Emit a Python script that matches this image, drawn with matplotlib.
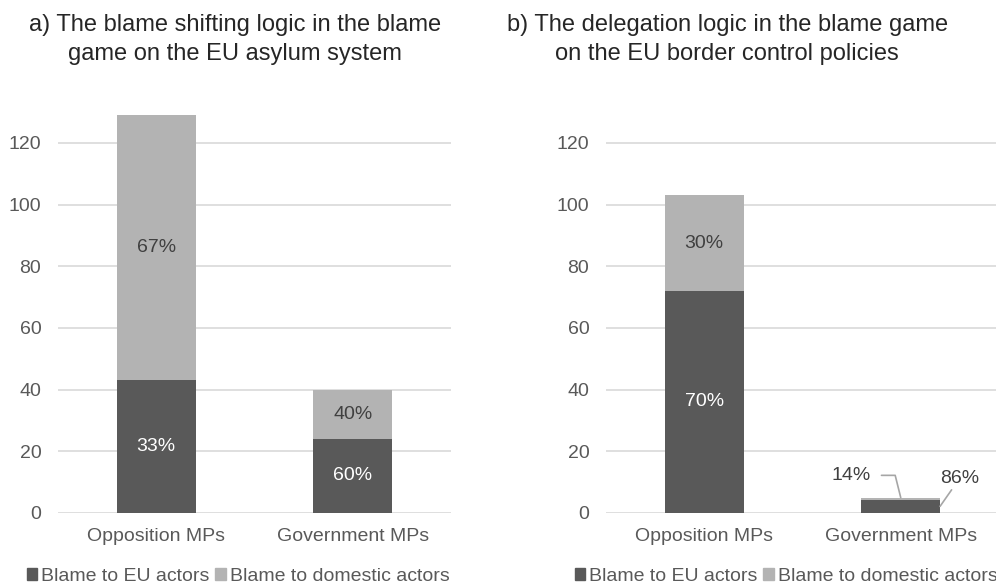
import numpy as np
import matplotlib.pyplot as plt
from matplotlib.patches import Patch

plt.rcParams['font.family'] = ['Liberation Sans', 'DejaVu Sans']

#%% data
groups = ['Opposition MPs', 'Government MPs']
titles = ['a) The blame shifting logic in the blame\ngame on the EU asylum system',
          'b) The delegation logic in the blame game\non the EU border control policies']
series = ['Blame to EU actors', 'Blame to domestic actors']
eu_a = [43, 24]
dom_a = [86, 16]
eu_b = [72, 4.3]
dom_b = [31, 0.7]
lab_eu_a = ['33%', '60%']
lab_dom_a = ['67%', '40%']
lab_eu_b = ['70%', '86%']
lab_dom_b = ['30%', '14%']
yticks = [0, 20, 40, 60, 80, 100, 120]

dark, light = '#595959', '#b3b3b3'
txt = '#595959'
fs = 14

fig = plt.figure(figsize=(9.96, 5.85), dpi=100)
ax1 = fig.add_axes([0.0582, 0.1231, 0.3946, 0.738])
ax2 = fig.add_axes([0.6084, 0.1231, 0.3946, 0.738])

x = np.arange(len(groups))
w = 0.4

def draw(ax, eu, dom, title, cx):
    ax.bar(x, eu, w, color=dark, zorder=3)
    ax.bar(x, dom, w, bottom=eu, color=light, zorder=3)
    ax.set_xlim(-0.5, 1.5)
    ax.set_ylim(0, 140)
    ax.set_yticks(yticks)
    ax.set_xticks(x)
    ax.set_xticklabels(groups, fontsize=fs, color=txt)
    ax.tick_params(axis='y', length=0, pad=12, labelsize=fs, labelcolor=txt)
    ax.tick_params(axis='x', length=0, pad=11)
    for s in ax.spines.values():
        s.set_visible(False)
    ax.grid(axis='y', color='#d9d9d9', lw=1.2, zorder=0)
    ax.set_axisbelow(True)
    fig.text(cx, 0.976, title, ha='center', va='top', fontsize=17,
             color='#262626', linespacing=1.4)
    ax.legend(handles=[Patch(color=dark), Patch(color=light)], labels=series,
              loc='upper left', bbox_to_anchor=(-0.08, -0.127), ncol=2,
              frameon=False, fontsize=fs, handlelength=0.55, handleheight=0.55,
              handletextpad=0.2, columnspacing=0.3, labelcolor=txt,
              borderpad=0, borderaxespad=0)

draw(ax1, eu_a, dom_a, titles[0], 0.236)
draw(ax2, eu_b, dom_b, titles[1], 0.730)

# labels inside bars, left chart
for i in x:
    ax1.text(i, eu_a[i] / 2, lab_eu_a[i], ha='center', va='center',
             fontsize=fs, color='white', zorder=4)
    ax1.text(i, eu_a[i] + dom_a[i] / 2, lab_dom_a[i], ha='center', va='center',
             fontsize=fs, color='#404040', zorder=4)

# right chart: opposition inside, government with leader lines
ax2.text(0, eu_b[0] / 2, lab_eu_b[0], ha='center', va='center',
         fontsize=fs, color='white', zorder=4)
ax2.text(0, eu_b[0] + dom_b[0] / 2, lab_dom_b[0], ha='center', va='center',
         fontsize=fs, color='#404040', zorder=4)

lc = '#a6a6a6'
ax2.annotate(lab_dom_b[1], xy=(1, eu_b[1] + dom_b[1]), xytext=(-36, 16),
             textcoords='offset points', ha='center', va='center',
             fontsize=fs, color='#404040', zorder=4,
             arrowprops=dict(arrowstyle='-', color=lc, lw=1.2, shrinkA=6, shrinkB=0,
                             connectionstyle='angle,angleA=0,angleB=104,rad=0'))
ax2.annotate(lab_eu_b[1], xy=(1 + w / 2, eu_b[1] / 2), xytext=(14, 20),
             textcoords='offset points', ha='center', va='center',
             fontsize=fs, color='#404040', zorder=4,
             arrowprops=dict(arrowstyle='-', color=lc, lw=1.2, shrinkA=0, shrinkB=0))

fig.savefig('out.png', dpi=100)
